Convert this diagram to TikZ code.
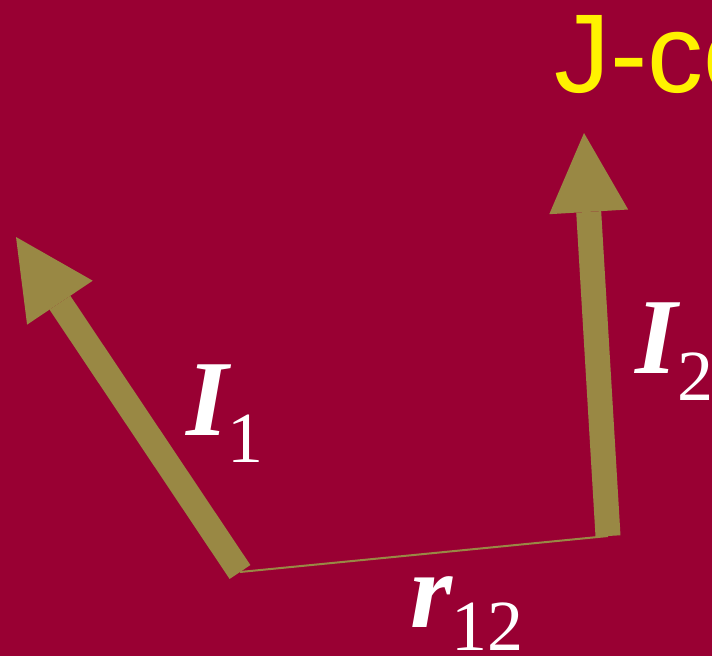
\documentclass[tikz,border=0pt]{standalone}
\usepackage{fontspec}
\setmainfont{Liberation Serif}
\newfontfamily\jsans{Liberation Sans}
\usetikzlibrary{arrows.meta}
\definecolor{bgred}{RGB}{153,0,51}
\definecolor{olivec}{RGB}{153,136,68}
\begin{document}
\begin{tikzpicture}[x=1pt,y=-1pt,
  vec/.style={draw=olivec,line width=25pt,-{Triangle[length=79pt,width=79pt,line width=0pt,fill=olivec]}},
  sepline/.style={draw=olivec,line width=2pt},
  sym/.style={text=white,inner sep=0pt,anchor=base west,font=\fontsize{108}{108}\selectfont\bfseries\itshape},
  idx/.style={text=white,inner sep=0pt,anchor=base west,font=\fontsize{72}{72}\selectfont},
  titletext/.style={text=yellow,inner sep=0pt,anchor=base west,font=\jsans\fontsize{112}{112}\selectfont}]
\useasboundingbox (0,0) rectangle (712,656);
\clip (0,0) rectangle (712,656);
\fill[bgred] (0,0) rectangle (712,656);
\coordinate (t1) at (240,572);
\coordinate (h1) at (16,237);
\coordinate (t2) at (608,536);
\coordinate (h2) at (584,133);
\draw[sepline] (t1) -- (t2);
\draw[vec] (t1) -- (h1);
\draw[vec] (t2) -- (h2);
\node[titletext] (jc) at (554,92) {J-co};
\node[sym] (I1) at (186,435) {I};
\node[idx] (s1) at (227,462) {1};
\node[sym] (I2) at (635,373) {I};
\node[idx] (s2) at (677,400) {2};
\node[sym] (r) at (410,627) {r};
\node[idx] (s12) at (451,650) {12};
\end{tikzpicture}
\end{document}
